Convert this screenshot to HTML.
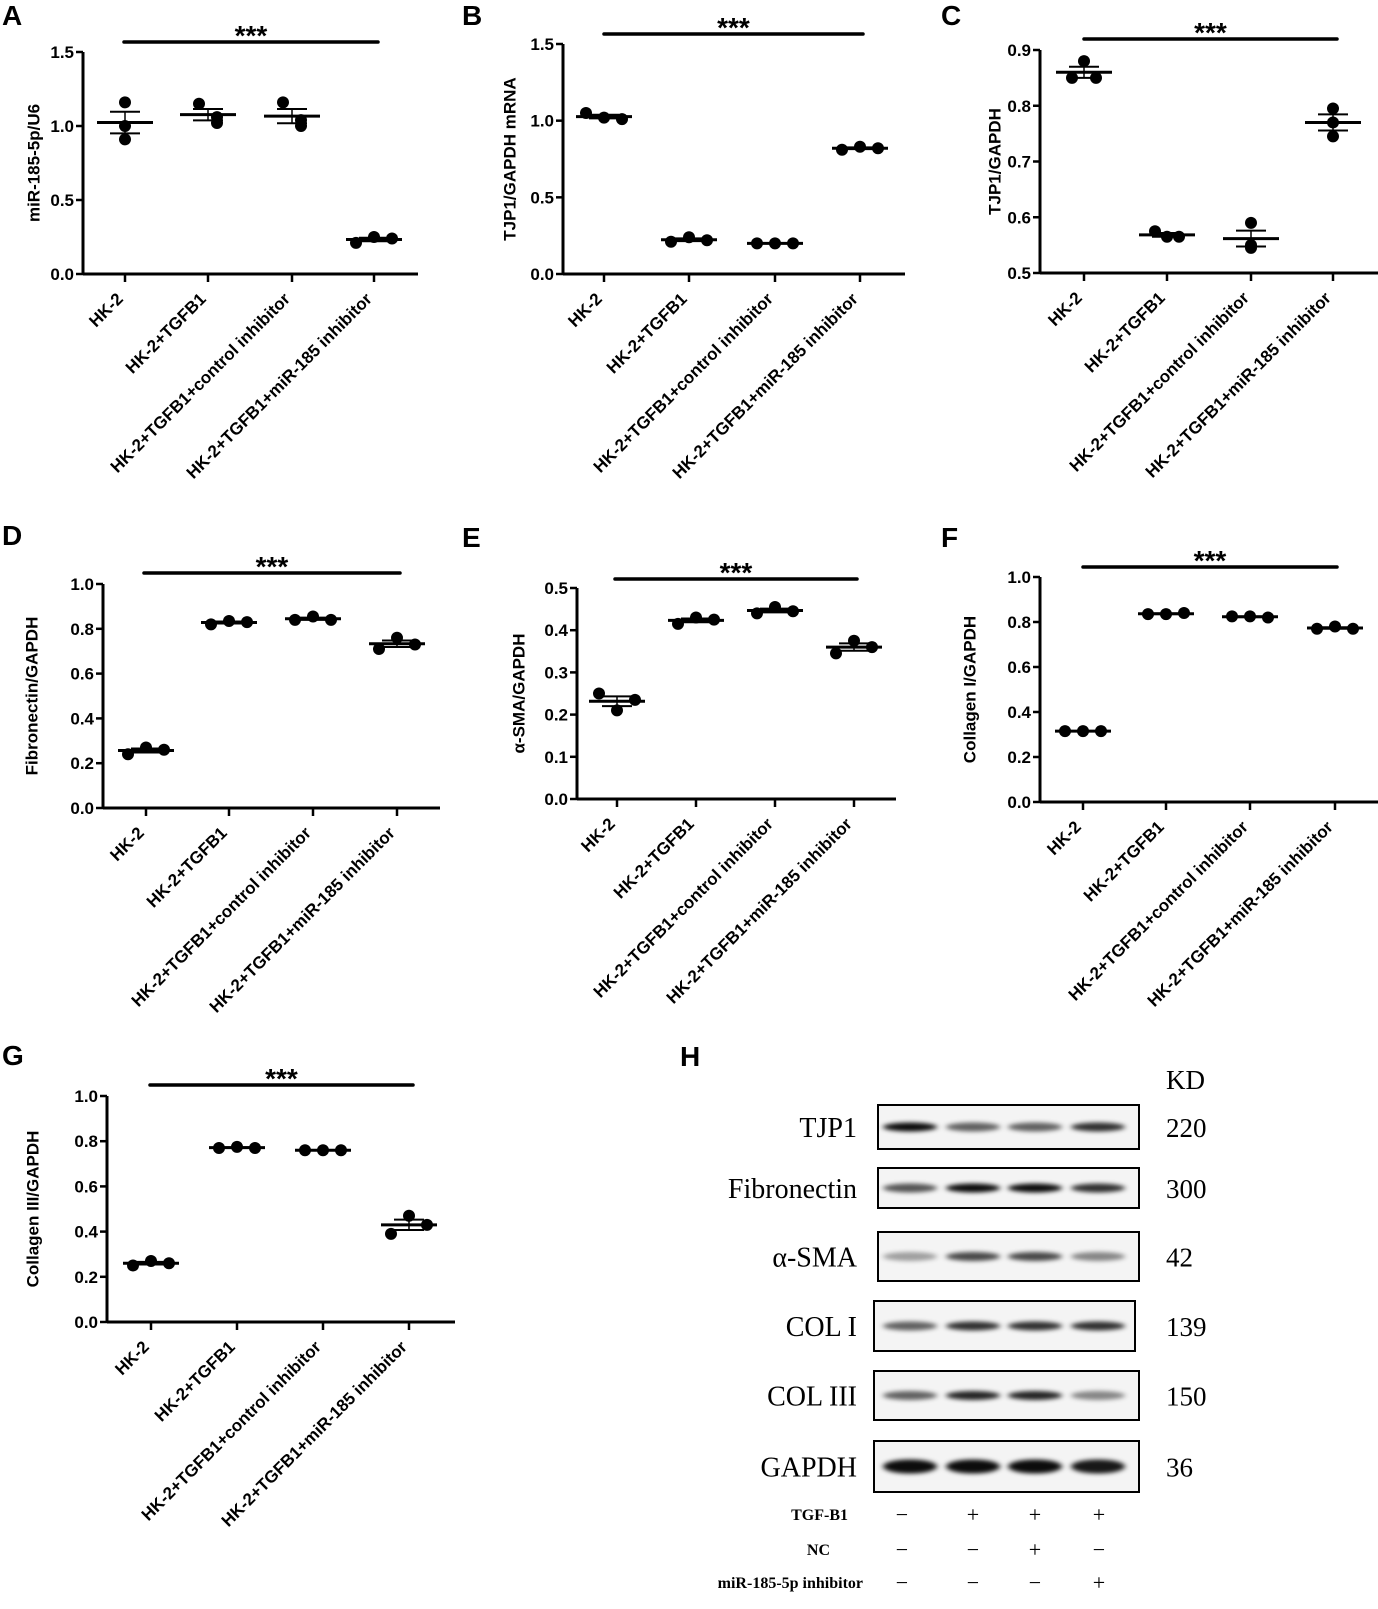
<!DOCTYPE html>
<html><head><meta charset="utf-8"><style>
html,body{margin:0;padding:0;background:#fff;}
svg{display:block;}
text{font-family:"Liberation Sans",Arial,sans-serif;}
.serif{font-family:"Liberation Serif","Times New Roman",serif;}
</style></head><body>
<svg id="fig" width="1378" height="1609" viewBox="0 0 1378 1609" xmlns="http://www.w3.org/2000/svg">
<defs><filter id="blur" x="-20%" y="-100%" width="140%" height="300%"><feGaussianBlur stdDeviation="3 2.2"/></filter></defs>
</svg>
<script>
const categories = ["HK-2","HK-2+TGFB1","HK-2+TGFB1+control inhibitor","HK-2+TGFB1+miR-185 inhibitor"];
const valuesA = [[1.16,1.00,0.91],[1.15,1.02,1.06],[1.16,1.00,1.04],[0.21,0.25,0.24]];
const valuesB = [[1.05,1.02,1.01],[0.21,0.24,0.22],[0.20,0.20,0.20],[0.81,0.83,0.82]];
const valuesC = [[0.88,0.85,0.85],[0.565,0.575,0.565],[0.59,0.545,0.55],[0.795,0.745,0.77]];
const valuesD = [[0.24,0.27,0.26],[0.82,0.835,0.83],[0.84,0.855,0.84],[0.71,0.76,0.73]];
const valuesE = [[0.25,0.21,0.235],[0.415,0.43,0.425],[0.44,0.455,0.445],[0.345,0.375,0.36]];
const valuesF = [[0.315,0.315,0.315],[0.835,0.835,0.84],[0.825,0.825,0.82],[0.77,0.78,0.77]];
const valuesG = [[0.25,0.27,0.26],[0.77,0.775,0.77],[0.76,0.76,0.76],[0.39,0.47,0.43]];
const ticksA = ["0.0","0.5","1.0","1.5"];
const ticksB = ["0.0","0.5","1.0","1.5"];
const ticksC = ["0.5","0.6","0.7","0.8","0.9"];
const ticksD = ["0.0","0.2","0.4","0.6","0.8","1.0"];
const ticksE = ["0.0","0.1","0.2","0.3","0.4","0.5"];
const ticksF = ["0.0","0.2","0.4","0.6","0.8","1.0"];
const ticksG = ["0.0","0.2","0.4","0.6","0.8","1.0"];
const blotProteins = ["TJP1","Fibronectin","α-SMA","COL I","COL III","GAPDH"];
const blotKD = ["220","300","42","139","150","36"];
const bandIntensity = [[0.95,0.6,0.6,0.8],[0.65,0.95,0.95,0.8],[0.35,0.7,0.7,0.45],[0.6,0.8,0.8,0.8],[0.6,0.85,0.85,0.45],[0.95,0.95,0.95,0.9]];
const signTGF = ["−","+","+","+"];
const signNC = ["−","−","+","−"];
const signInh = ["−","−","−","+"];

const NS="http://www.w3.org/2000/svg";
const svg=document.getElementById('fig');
function mk(tag,attrs,parent){const e=document.createElementNS(NS,tag);for(const k in attrs)e.setAttribute(k,attrs[k]);(parent||svg).appendChild(e);return e;}

const panels=[
 {id:'a',letter:'A',lx:2,ly:15,title:'miR-185-5p/U6',tx:34,ax:83,xe:418,y0:274,y1:52,min:0,max:1.5,ticks:ticksA,cats:[125,208,292,374],sig:[124,378,42],vals:valuesA,jit:[[0,0,0],[-9,9,9],[-9,9,9],[-18,0,18]]},
 {id:'b',letter:'B',lx:462,ly:15,title:'TJP1/GAPDH mRNA',tx:510,ax:563,xe:905,y0:274,y1:44,min:0,max:1.5,ticks:ticksB,cats:[604,689,775,860],sig:[604,863,34],vals:valuesB},
 {id:'c',letter:'C',lx:941,ly:15,title:'TJP1/GAPDH',tx:995,ax:1040,xe:1378,y0:273,y1:50,min:0.5,max:0.9,ticks:ticksC,cats:[1084,1167,1251,1333],sig:[1084,1337,39],vals:valuesC,jit:[[0,-12,12],[0,-12,12],[0,0,0],[0,0,0]]},
 {id:'d',letter:'D',lx:2,ly:535,title:'Fibronectin/GAPDH',tx:32,ax:103,xe:440,y0:808,y1:584,min:0,max:1.0,ticks:ticksD,cats:[146,229,313,397],sig:[144,400,573],vals:valuesD},
 {id:'e',letter:'E',lx:462,ly:537,title:'α-SMA/GAPDH',tx:519,ax:577,xe:896,y0:799,y1:588,min:0,max:0.5,ticks:ticksE,cats:[617,696,775,854],sig:[615,857,579],vals:valuesE},
 {id:'f',letter:'F',lx:941,ly:537,title:'Collagen I/GAPDH',tx:970,ax:1040,xe:1378,y0:802,y1:577,min:0,max:1.0,ticks:ticksF,cats:[1083,1166,1250,1335],sig:[1083,1337,567],vals:valuesF},
 {id:'g',letter:'G',lx:2,ly:1055,title:'Collagen III/GAPDH',tx:33,ax:107,xe:455,y0:1322,y1:1096,min:0,max:1.0,ticks:ticksG,cats:[151,237,323,409],sig:[150,413,1085],vals:valuesG}
];

panels.forEach(p=>{
 const g=mk('g',{});
 
 
 const ys=v=>p.y0+(v-p.min)/(p.max-p.min)*(p.y1-p.y0);
 const L=mk('text',{x:p.lx,y:p.ly+10,'font-size':28,'font-weight':'bold'},g);L.textContent=p.letter;
 
 const ya=mk('line',{x1:p.ax,y1:p.y0,x2:p.ax,y2:p.y1,stroke:'#000','stroke-width':3},g);
 
 const xa=mk('line',{x1:p.ax,y1:p.y0,x2:p.xe,y2:p.y0,stroke:'#000','stroke-width':3},g);
 
 p.ticks.forEach(t=>{const y=ys(parseFloat(t));
  mk('line',{x1:p.ax-7,y1:y,x2:p.ax,y2:y,stroke:'#000','stroke-width':2.5},g);
  const tt=mk('text',{x:p.ax-9,y:y+6,'font-size':17,'font-weight':'bold','text-anchor':'end'},g);tt.textContent=t;
  });
 const yc=(p.y0+p.y1)/2;
 const yt=mk('text',{x:p.tx,y:yc,'font-size':17,'font-weight':'bold','text-anchor':'middle','dominant-baseline':'central',transform:`rotate(-90 ${p.tx} ${yc})`},g);
 yt.textContent=p.title;
 categories.forEach((c,i)=>{const x=p.cats[i];
  mk('line',{x1:x,y1:p.y0,x2:x,y2:p.y0+8,stroke:'#000','stroke-width':2.5},g);
  const lx=x-1,ly=p.y0+26;
  const ct=mk('text',{x:lx,y:ly,'font-size':17,'font-weight':'bold','text-anchor':'end',transform:`rotate(-45 ${lx} ${ly})`},g);
  ct.textContent=c;
  const v=p.vals[i];const m=(v[0]+v[1]+v[2])/3;
  const sd=Math.sqrt(v.reduce((s,a)=>s+(a-m)*(a-m),0)/2);const se=sd/Math.sqrt(3);
  const j=p.jit?p.jit[i]:[-18,0,18];
  v.forEach((val,k)=>{const d=mk('circle',{cx:x+j[k],cy:ys(val),r:6,fill:'#000'},g);
   });
  const ml=mk('line',{x1:x-28,y1:ys(m),x2:x+28,y2:ys(m),stroke:'#000','stroke-width':3},g);
  
  mk('line',{x1:x,y1:ys(m-se),x2:x,y2:ys(m+se),stroke:'#000','stroke-width':1.5},g);
  mk('line',{x1:x-15,y1:ys(m+se),x2:x+15,y2:ys(m+se),stroke:'#000','stroke-width':2},g);
  mk('line',{x1:x-15,y1:ys(m-se),x2:x+15,y2:ys(m-se),stroke:'#000','stroke-width':2},g);
 });
 const sl=mk('line',{x1:p.sig[0],y1:p.sig[2],x2:p.sig[1],y2:p.sig[2],stroke:'#000','stroke-width':3.5,'stroke-linecap':'round'},g);
 
 const st=mk('text',{x:(p.sig[0]+p.sig[1])/2,y:p.sig[2]+3,'font-size':28,'font-weight':'bold','text-anchor':'middle'},g);
 st.textContent='***';
});

// Western blot panel H
const hg=mk('g',{});


const hl=mk('text',{x:680,y:1066,'font-size':28,'font-weight':'bold'},hg);hl.textContent='H';

const kd=mk('text',{x:1166,y:1089,'font-size':27,'class':'serif'},hg);kd.textContent='KD';

const boxes=[[878,1139,1105,1149],[878,1139,1168,1208],[878,1139,1232,1281],[874,1135,1301,1351],[874,1139,1371,1420],[874,1139,1441,1492]];
const lanes=[910,973,1035,1098];
blotProteins.forEach((name,i)=>{const b=boxes[i];const cy=(b[2]+b[3])/2;
 const r=mk('rect',{x:b[0],y:b[2],width:b[1]-b[0],height:b[3]-b[2],fill:'#f4f4f4',stroke:'#000','stroke-width':2},hg);
 
 bandIntensity[i].forEach((a,k)=>{const e=mk('ellipse',{cx:lanes[k],cy:cy,rx:27,ry:(i==5?7:4.5),fill:'#000','fill-opacity':a,filter:'url(#blur)'},hg);
  });
 const t=mk('text',{x:857,y:cy+10,'font-size':28,'text-anchor':'end','class':'serif'},hg);t.textContent=name;
 
 const n=mk('text',{x:1166,y:cy+10,'font-size':27,'class':'serif'},hg);n.textContent=blotKD[i];
 
});
const signLanes=[902,973,1035,1099];
[["TGF-B1",signTGF,1515,848],["NC",signNC,1550,830],["miR-185-5p inhibitor",signInh,1583,863]].forEach(r=>{
 const t=mk('text',{x:r[3],y:r[2]+5,'font-size':16,'font-weight':'bold','text-anchor':'end','class':'serif'},hg);
 t.textContent=r[0];
 r[1].forEach((s,k)=>{const st=mk('text',{x:signLanes[k],y:r[2]+7,'font-size':22,'text-anchor':'middle','class':'serif'},hg);
  st.textContent=s;});
});
</script>
</body></html>
